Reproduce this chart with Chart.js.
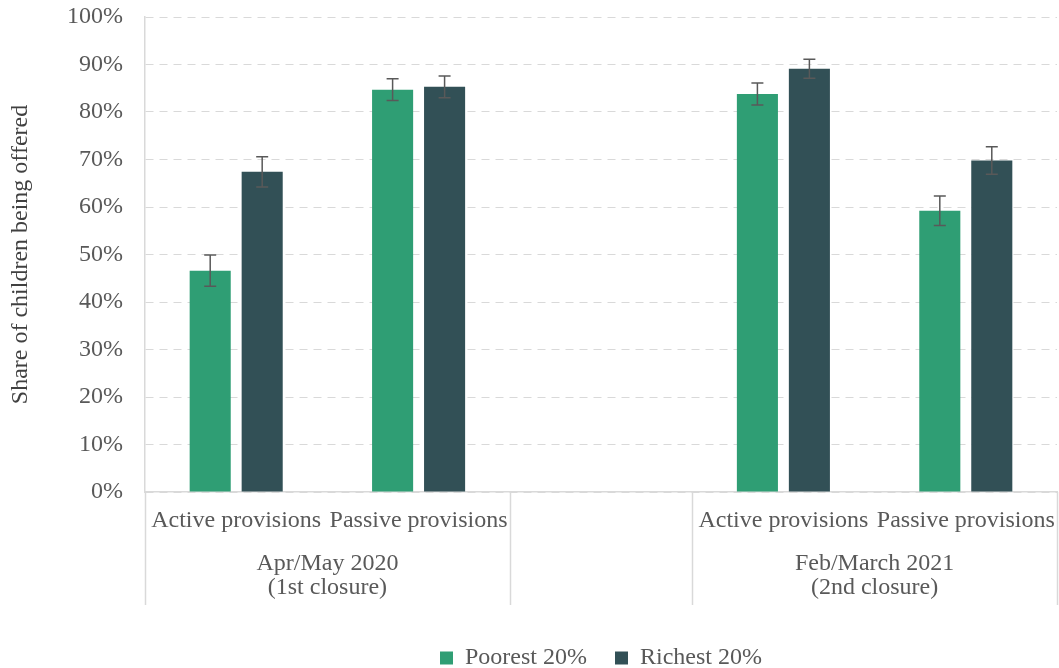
<!DOCTYPE html>
<html>
<head>
<meta charset="utf-8">
<script src="https://cdn.jsdelivr.net/npm/chart.js@4"></script>
<style>
  html, body { margin: 0; padding: 0; background: #fff; }
  #wrap { width: 1059px; height: 668px; }
</style>
</head>
<body>
<div id="wrap"><canvas id="myChart"></canvas></div>
<script>
const categories = ['Active provisions', 'Passive provisions', '', 'Active provisions', 'Passive provisions'];
const groups = [['Apr/May 2020', '(1st closure)'], ['Feb/March 2021', '(2nd closure)']];
const poorest = [46.6, 84.7, null, 83.8, 59.2];
const richest = [67.4, 85.3, null, 89.1, 69.8];
const poorestErr = [3.3, 2.3, null, 2.3, 3.1];
const richestErr = [3.2, 2.3, null, 2.0, 2.9];
const yTicks = [0, 10, 20, 30, 40, 50, 60, 70, 80, 90, 100];

const textColor = '#595959';
const serif = 'Liberation Serif, Times New Roman, serif';
Chart.defaults.font.family = serif;
Chart.defaults.font.size = 24;
Chart.defaults.font.lineHeight = 1.0;
Chart.defaults.color = textColor;

// error bars drawn on top of the bars
const errorBars = {
  id: 'errorBars',
  afterDatasetsDraw(chart) {
    const c = chart.ctx;
    const y = chart.scales.y;
    const errs = [poorestErr, richestErr];
    c.save();
    c.strokeStyle = '#595959';
    c.lineWidth = 1.5;
    chart.data.datasets.forEach((ds, i) => {
      chart.getDatasetMeta(i).data.forEach((bar, j) => {
        const v = ds.data[j], e = errs[i][j];
        if (v == null || e == null) return;
        const top = y.getPixelForValue(v + e);
        const bot = y.getPixelForValue(v - e);
        c.beginPath();
        c.moveTo(bar.x, top); c.lineTo(bar.x, bot);
        c.moveTo(bar.x - 6, top); c.lineTo(bar.x + 6, top);
        c.moveTo(bar.x - 6, bot); c.lineTo(bar.x + 6, bot);
        c.stroke();
      });
    });
    c.restore();
  }
};

// group labels and divider lines under the x axis
const groupAxis = {
  id: 'groupAxis',
  afterDraw(chart) {
    const c = chart.ctx;
    const x = chart.scales.x;
    const base = chart.chartArea.bottom;
    const half = (x.getPixelForValue(1) - x.getPixelForValue(0)) / 2;
    const edge = i => x.getPixelForValue(i) - half;
    const bounds = [edge(0), edge(2), edge(3), edge(5)];
    c.save();
    c.strokeStyle = '#d9d9d9';
    c.lineWidth = 1.5;
    bounds.forEach(b => {
      c.beginPath();
      c.moveTo(Math.round(b) + 0.5, base);
      c.lineTo(Math.round(b) + 0.5, base + 113);
      c.stroke();
    });
    c.fillStyle = textColor;
    c.font = '24px ' + serif;
    c.textAlign = 'center';
    c.textBaseline = 'middle';
    const centers = [(bounds[0] + bounds[1]) / 2, (bounds[2] + bounds[3]) / 2];
    groups.forEach((g, i) => {
      g.forEach((line, k) => c.fillText(line, centers[i], base + 72 + k * 24));
    });
    c.restore();
  }
};

new Chart(document.getElementById('myChart'), {
  type: 'bar',
  data: {
    labels: categories,
    datasets: [{
      label: 'Poorest 20%',
      data: poorest,
      backgroundColor: '#2f9e74',
      categoryPercentage: 0.57,
      barPercentage: 0.79
    }, {
      label: 'Richest 20%',
      data: richest,
      backgroundColor: '#325056',
      categoryPercentage: 0.57,
      barPercentage: 0.79
    }]
  },
  options: {
    responsive: true,
    maintainAspectRatio: false,
    animation: false,
    layout: { padding: { top: 0, right: 0, left: 0, bottom: -12 } },
    plugins: {
      legend: {
        position: 'bottom',
        fullSize: false,
        labels: { boxWidth: 13, boxHeight: 13, padding: 28, color: textColor }
      },
      tooltip: { enabled: false }
    },
    scales: {
      x: {
        grid: { display: false, drawTicks: false },
        border: { color: '#d9d9d9', width: 1.5 },
        ticks: { padding: 17, maxRotation: 0, autoSkip: false },
        afterFit(scale) {
          scale.height += 68;
          scale.paddingLeft = 0;
          scale.paddingRight = 2;
        }
      },
      y: {
        min: 0,
        max: 100,
        afterBuildTicks(scale) { scale.ticks = yTicks.map(v => ({ value: v })); },
        afterFit(scale) { scale.paddingTop = 17; },
        ticks: { callback: v => v + '%', padding: 22 },
        grid: { color: '#d9d9d9', drawTicks: false },
        border: { color: '#d9d9d9', width: 1.5, dash: [8, 6] },
        title: { display: true, text: 'Share of children being offered', color: '#404040', padding: { top: 9, bottom: 12 } }
      }
    }
  },
  plugins: [errorBars, groupAxis]
});
</script>
</body>
</html>
